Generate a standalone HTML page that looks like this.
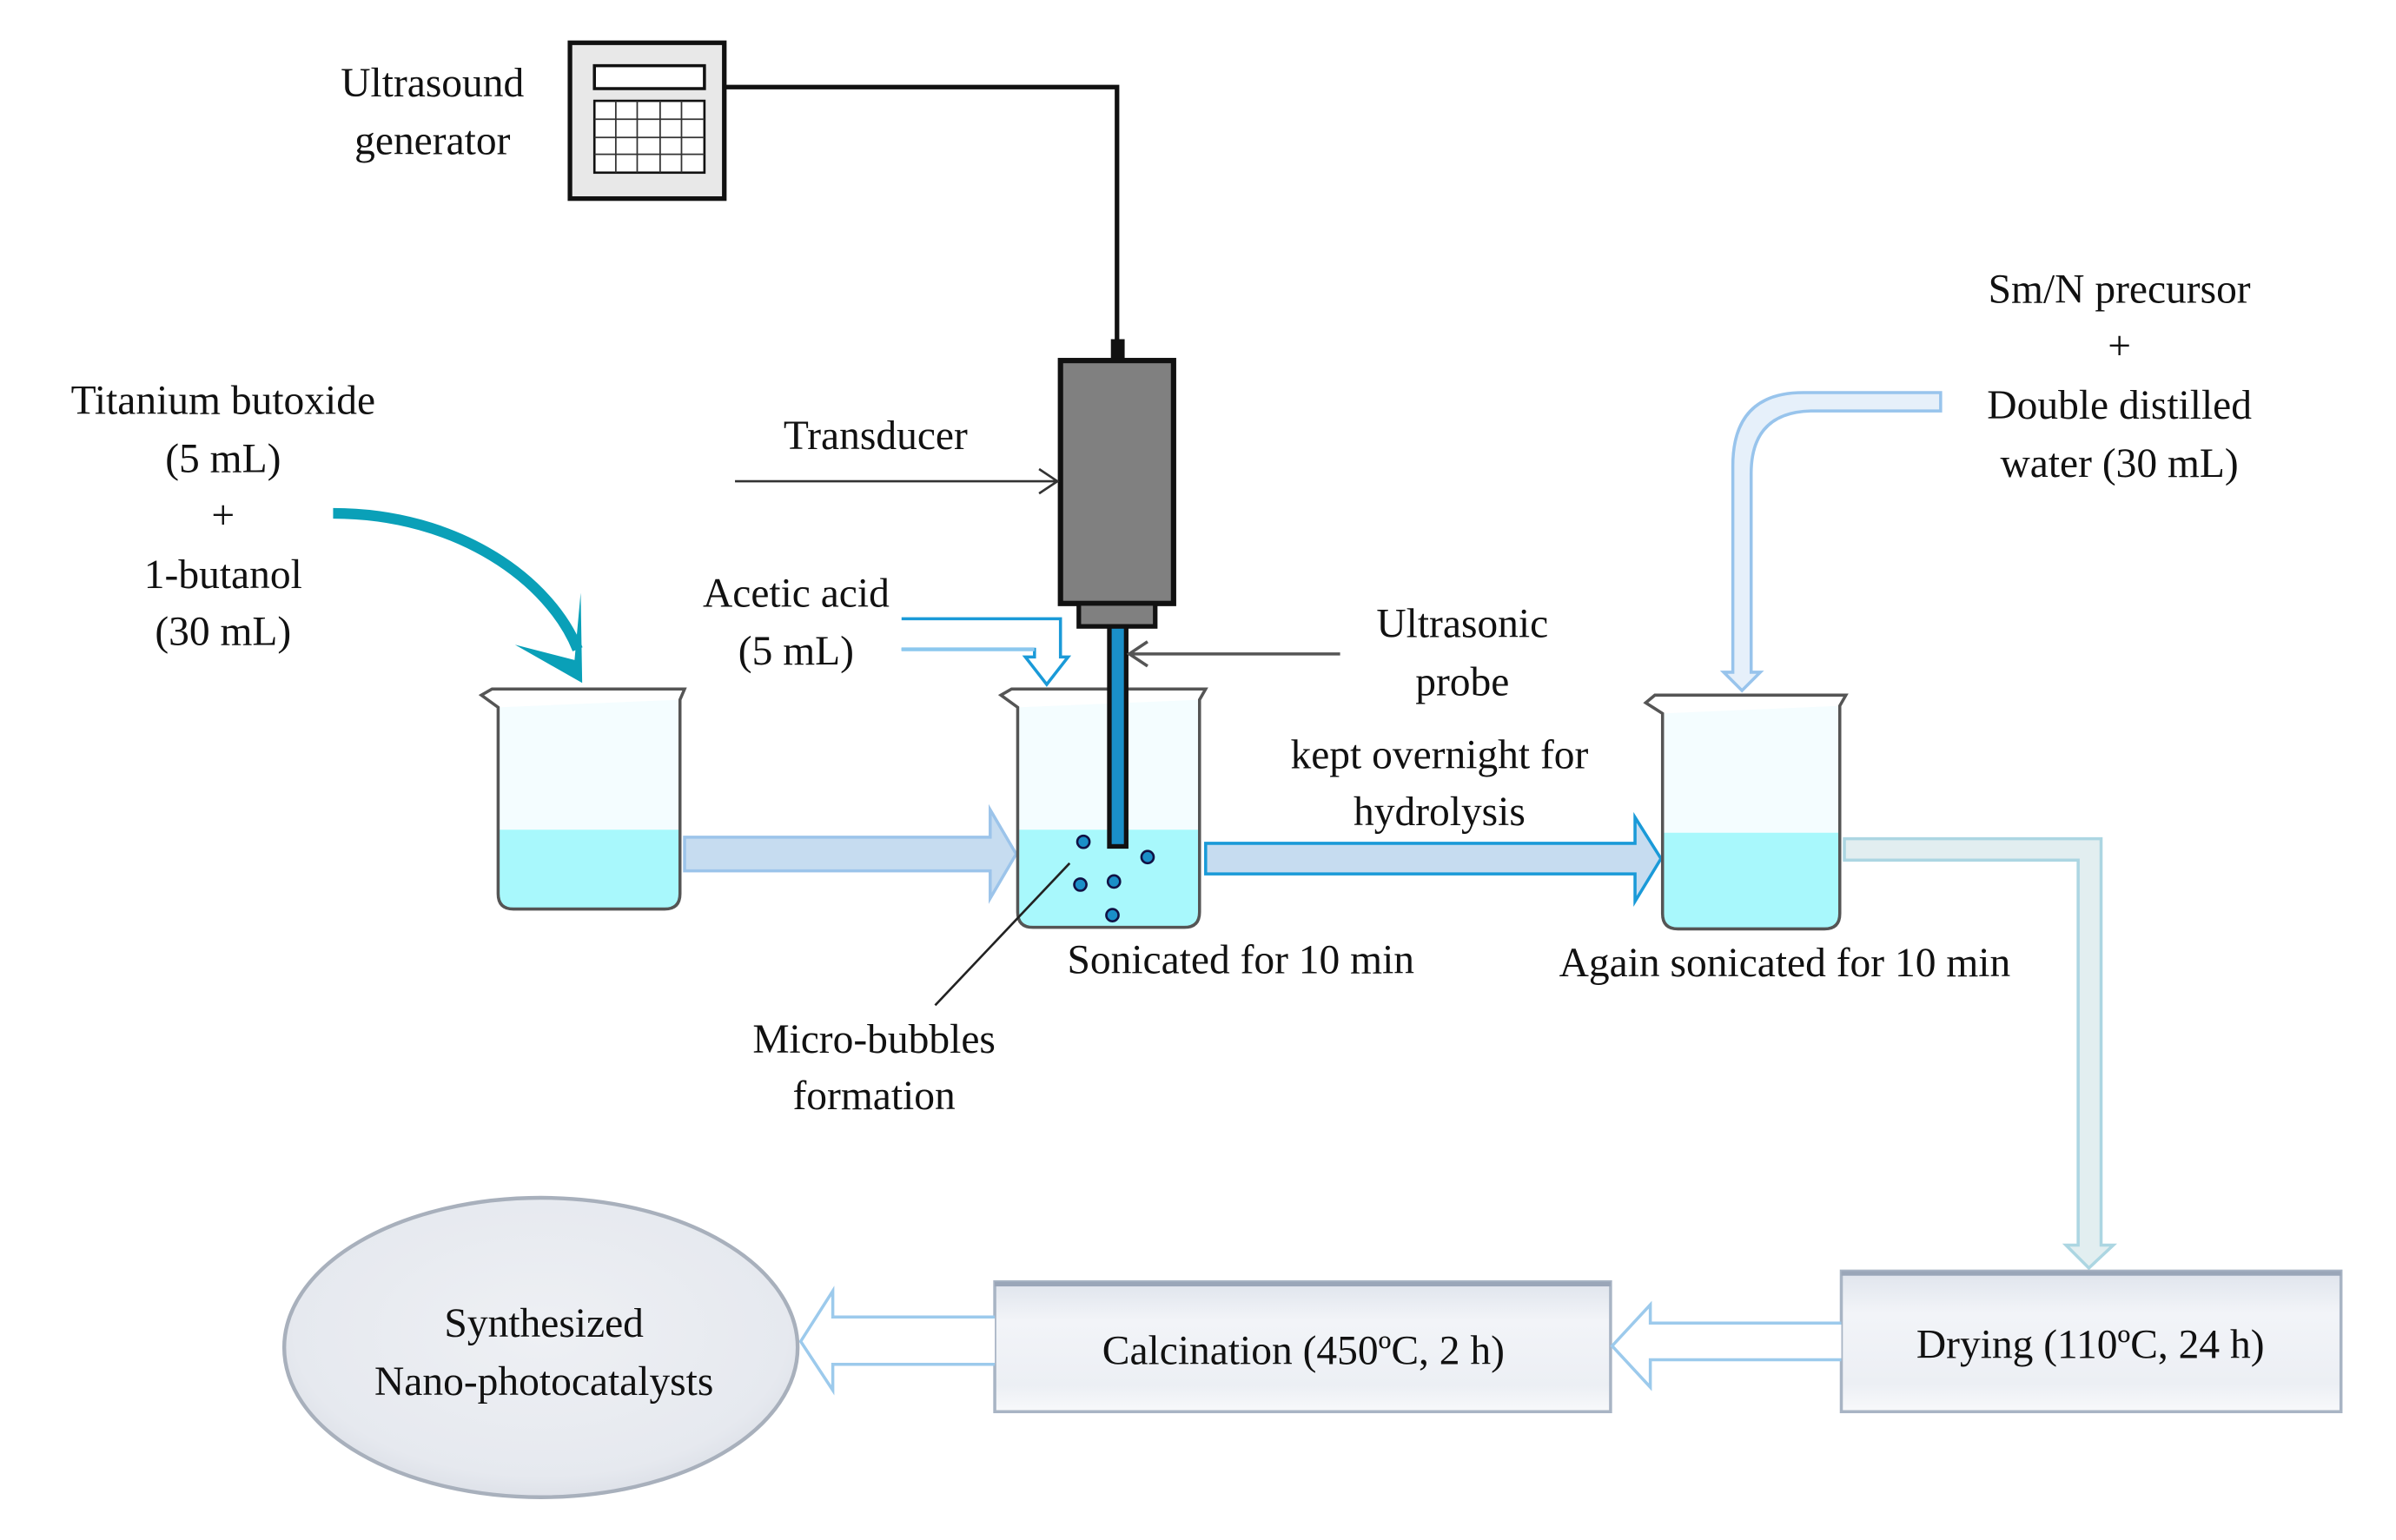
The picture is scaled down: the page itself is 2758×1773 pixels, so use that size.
<!DOCTYPE html>
<html><head><meta charset="utf-8"><style>
html,body{margin:0;padding:0;background:#fff;}
svg{display:block;}
svg text{font-family:"Liberation Serif","Times New Roman","DejaVu Serif",serif;font-size:27px;fill:#111;text-anchor:middle;}
</style></head><body>
<svg width="2758" height="1773" viewBox="0 0 1568 1008" preserveAspectRatio="none" xmlns="http://www.w3.org/2000/svg" font-family="Liberation Serif, serif">
<defs>
<linearGradient id="bx" x1="0" y1="0" x2="0" y2="1">
<stop offset="0" stop-color="#dfe4ec"/><stop offset="0.3" stop-color="#f2f4f8"/><stop offset="0.8" stop-color="#eceff4"/><stop offset="1" stop-color="#f8f9fb"/></linearGradient>
<radialGradient id="el" cx="0.5" cy="0.45" r="0.6">
<stop offset="0" stop-color="#eef0f4"/><stop offset="0.8" stop-color="#e6e9ef"/><stop offset="1" stop-color="#d8dce4"/></radialGradient>
</defs>
<rect x="373" y="28" width="101" height="102" fill="#e8e8e8" stroke="#111" stroke-width="3"/>
<rect x="389" y="43" width="72" height="15" fill="#fff" stroke="#111" stroke-width="2"/>
<rect x="389" y="66" width="72" height="47" fill="#fff" stroke="#111" stroke-width="1.5"/>
<path d="M403 66V113M417 66V113M432 66V113M446 66V113M389 78H461M389 90H461M389 101H461" stroke="#333" stroke-width="1"/>
<text x="283" y="63">Ultrasound</text>
<text x="283" y="101">generator</text>
<path d="M474 57H731V228" fill="none" stroke="#111" stroke-width="3"/>
<rect x="727" y="222" width="9" height="15" fill="#111"/>
<rect x="694" y="236" width="74" height="159" fill="#808080" stroke="#111" stroke-width="3.5"/>
<rect x="706" y="395" width="50" height="15" fill="#808080" stroke="#111" stroke-width="3"/>
<text x="573" y="294">Transducer</text>
<path d="M481 315H692M680 307L692 315L680 323" fill="none" stroke="#333" stroke-width="1.5"/>
<text x="146" y="271">Titanium butoxide</text>
<text x="146" y="309">(5 mL)</text>
<text x="146" y="346">+</text>
<text x="146" y="385">1-butanol</text>
<text x="146" y="422">(30 mL)</text>
<path d="M218 336C300 336 360 380 378 425" fill="none" stroke="#0aa0b8" stroke-width="7"/>
<path d="M380 388L381 447L337 422L376 432Z" fill="#0aa0b8"/>
<path d="M326 543H445V585Q445 595 435 595H336Q326 595 326 585Z" fill="#a8f8fc"/>
<path d="M326 463V543H445V458Z" fill="#f4fdff"/>
<path d="M315 455L326 463V585Q326 595 336 595H435Q445 595 445 585V458L448 451H322Z" fill="none" stroke="#555" stroke-width="2"/>
<path d="M448 548H648V530L665 559L648 588V570H448Z" fill="#c6dcf0" stroke="#9cc4ea" stroke-width="2"/>
<text x="521" y="397">Acetic acid</text>
<text x="521" y="435">(5 mL)</text>
<path d="M590 405H694V430H699L685 448L671 430H677V425H590" fill="none" stroke="#1a9ad8" stroke-width="2"/>
<path d="M590 425H677" stroke="#8cc8ee" stroke-width="2.5"/>
<path d="M666 543H785V597Q785 607 775 607H676Q666 607 666 597Z" fill="#a8f8fc"/>
<path d="M666 463V543H785V458Z" fill="#f4fdff"/>
<path d="M655 455L666 463V597Q666 607 676 607H775Q785 607 785 597V458L789 451H662Z" fill="none" stroke="#555" stroke-width="2"/>
<rect x="726" y="410" width="11" height="144" fill="#1a8fc8" stroke="#111" stroke-width="3"/>
<g fill="#1a8fc8" stroke="#114" stroke-width="1.5">
<circle cx="709" cy="551" r="4"/><circle cx="751" cy="561" r="4"/><circle cx="707" cy="579" r="4"/><circle cx="729" cy="577" r="4"/><circle cx="728" cy="599" r="4"/></g>
<path d="M612 658L700 565" stroke="#222" stroke-width="1.5"/>
<path d="M877 428H739M751 420L739 428L751 436" fill="none" stroke="#555" stroke-width="2"/>
<text x="957" y="417">Ultrasonic</text>
<text x="957" y="455">probe</text>
<path d="M789 552H1070V535L1087 562L1070 590V572H789Z" fill="#c6dcf0" stroke="#1a9ad8" stroke-width="2"/>
<text x="942" y="503">kept overnight for</text>
<text x="942" y="540">hydrolysis</text>
<text x="812" y="637">Sonicated for 10 min</text>
<text x="572" y="689">Micro-bubbles</text>
<text x="572" y="726">formation</text>
<path d="M1088 545H1204V598Q1204 608 1194 608H1098Q1088 608 1088 598Z" fill="#a8f8fc"/>
<path d="M1088 467V545H1204V462Z" fill="#f4fdff"/>
<path d="M1077 460L1088 467V598Q1088 608 1098 608H1194Q1204 608 1204 598V462L1208 455H1083Z" fill="none" stroke="#555" stroke-width="2"/>
<text x="1387" y="198">Sm/N precursor</text>
<text x="1387" y="235">+</text>
<text x="1387" y="274">Double distilled</text>
<text x="1387" y="312">water (30 mL)</text>
<path d="M1270 257H1180Q1134 257 1134 305V440H1128L1140 452L1152 440H1146V310Q1146 270 1185 269H1270Z" fill="#e6f0fa" stroke="#98c4ec" stroke-width="2"/>
<text x="1168" y="639">Again sonicated for 10 min</text>
<path d="M1207 549H1375V815H1383L1367 830L1352 815H1360V563H1207Z" fill="#e2eef0" stroke="#acd6e2" stroke-width="2"/>
<rect x="1205" y="832" width="327" height="92" fill="url(#bx)" stroke="#a8b4c4" stroke-width="2"/>
<rect x="1205" y="832" width="327" height="3" fill="#9aa6b8"/>
<text x="1368" y="889">Drying (110ºC, 24 h)</text>
<rect x="651" y="839" width="403" height="85" fill="url(#bx)" stroke="#a8b4c4" stroke-width="2"/>
<rect x="651" y="839" width="403" height="3" fill="#9aa6b8"/>
<text x="853" y="893">Calcination (450ºC, 2 h)</text>
<path d="M1205 866H1080V854L1055 881L1080 908V890H1205" fill="#fff" stroke="#9ccaec" stroke-width="2"/>
<path d="M651 862H545V845L524 878L545 910V893H651" fill="#fff" stroke="#9ccaec" stroke-width="2"/>
<ellipse cx="354" cy="882" rx="168" ry="98" fill="url(#el)" stroke="#a8b0bc" stroke-width="2.5"/>
<text x="356" y="875">Synthesized</text>
<text x="356" y="913">Nano-photocatalysts</text>
</svg>
</body></html>
